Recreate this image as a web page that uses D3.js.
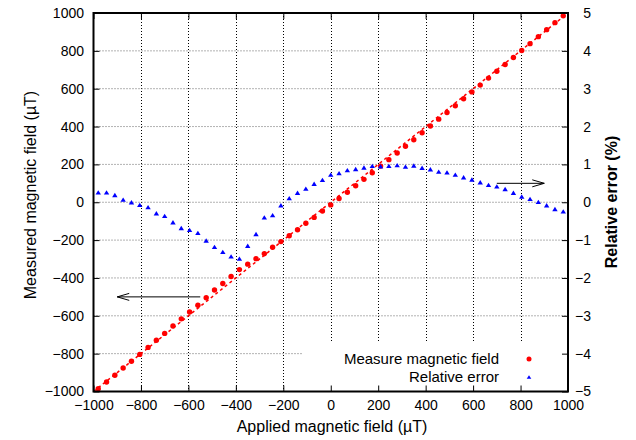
<!DOCTYPE html>
<html>
<head>
<meta charset="utf-8">
<script src="https://cdn.jsdelivr.net/npm/d3@7"></script>
<style>
  html, body { margin: 0; padding: 0; background: #fff; }
  svg { display: block; font-family: "Liberation Sans", Arial, sans-serif; }
</style>
</head>
<body>
<svg id="chart" width="636" height="440"></svg>
<script>
// Applied field steps (µT)
const applied = [
  -980, -945, -910, -875, -840, -805, -770, -735, -700, -665,
  -630, -595, -560, -525, -490, -455, -420, -385, -350, -315,
  -280, -245, -210, -175, -140, -105, -70, -35, 0, 35,
  70, 105, 140, 175, 210, 245, 280, 315, 350, 385,
  420, 455, 490, 525, 560, 595, 630, 665, 700, 735,
  770, 805, 840, 875, 910, 945, 980
];

// Sensor reading at each step (µT)
const measured = [
  -985, -950, -914, -876, -840, -804, -767, -729, -693, -654,
  -616, -580, -544, -505, -464, -429, -392, -356, -327, -298,
  -272, -238, -208, -177, -145, -111, -80, -46, -14, 20,
  53, 87, 121, 156, 191, 225, 260, 296, 330, 367,
  403, 439, 474, 510, 547, 583, 619, 656, 692, 728,
  765, 802, 838, 875, 912, 949, 985
];

// Relative error (% of full scale)
const relError = [
  0.26, 0.26, 0.19, 0.07, 0.00, -0.07, -0.13, -0.29, -0.36, -0.53,
  -0.68, -0.73, -0.81, -1.01, -1.18, -1.31, -1.43, -1.49, -1.15, -0.84,
  -0.40, -0.34, -0.08, 0.11, 0.25, 0.36, 0.49, 0.59, 0.73, 0.77,
  0.85, 0.88, 0.92, 0.96, 0.95, 0.96, 0.98, 0.94, 0.97, 0.91,
  0.87, 0.81, 0.79, 0.73, 0.66, 0.60, 0.53, 0.46, 0.42, 0.35,
  0.25, 0.15, 0.09, 0.01, -0.08, -0.18, -0.24
];

const xTicks = [-1000, -800, -600, -400, -200, 0, 200, 400, 600, 800, 1000];
const yTicks = [-1000, -800, -600, -400, -200, 0, 200, 400, 600, 800, 1000];
const y2Ticks = [-5, -4, -3, -2, -1, 0, 1, 2, 3, 4, 5];

const idealLine = [-1000, 1000];

const legendLabels = ["Measure magnetic field", "Relative error"];

// Arrows pointing each series to its axis (data units)
const arrowLeft = [[-550, -500], [-900, -500]];     // on the µT axis
const arrowRight = [[700, 0.5], [900, 0.5]];        // on the % axis

const xTitle = "Applied magnetic field (\u00b5T)";
const yTitle = "Measured magnetic field (\u00b5T)";
const y2Title = "Relative error (%)";

const L = 93.5, R = 568, T = 13, B = 391.5;

const x = d3.scaleLinear().domain([-1000, 1000]).range([L, R]);
const y = d3.scaleLinear().domain([-1000, 1000]).range([B, T]);
const y2 = d3.scaleLinear().domain([-5, 5]).range([B, T]);

const svg = d3.select("#chart");

// Dotted grid
const grid = svg.append("g").attr("stroke", "#000").attr("stroke-width", 1)
  .attr("stroke-dasharray", "1,2");
grid.selectAll("line.v").data(xTicks.slice(1, -1)).join("line")
  .attr("class", "v")
  .attr("x1", d => Math.round(x(d)) + 0.5).attr("x2", d => Math.round(x(d)) + 0.5)
  .attr("y1", T).attr("y2", B);
grid.selectAll("line.h").data(yTicks.slice(1, -1)).join("line")
  .attr("class", "h")
  .attr("x1", L).attr("x2", R)
  .attr("y1", d => y(d)).attr("y2", d => y(d))
  .attr("stroke", "#666");

// Ideal response y = x
svg.append("line")
  .attr("x1", x(idealLine[0])).attr("y1", y(idealLine[0]))
  .attr("x2", x(idealLine[1])).attr("y2", y(idealLine[1]))
  .attr("stroke", "#ff0000").attr("stroke-width", 1.5)
  .attr("stroke-dasharray", "3,3");

// Measured points
svg.append("g").selectAll("circle").data(applied).join("circle")
  .attr("cx", d => x(d))
  .attr("cy", (d, i) => y(measured[i]))
  .attr("r", 2.7)
  .attr("fill", "#ff0000");

// Relative error triangles
const tri = (cx, cy, w, h) =>
  `M${cx},${cy - h / 2}L${cx + w / 2},${cy + h / 2}L${cx - w / 2},${cy + h / 2}Z`;
svg.append("g").selectAll("path").data(applied).join("path")
  .attr("d", (d, i) => tri(x(d), y2(relError[i]), 5.4, 4.4))
  .attr("fill", "#0000ff");

// Legend (opaque box)
svg.append("rect").attr("x", 302).attr("y", 341).attr("width", 264).attr("height", 49)
  .attr("fill", "#fff");
const leg = svg.append("g").attr("font-size", 15).attr("fill", "#000");
leg.selectAll("text").data(legendLabels).join("text")
  .attr("x", 499).attr("y", (d, i) => 364 + i * 18)
  .attr("text-anchor", "end").text(d => d);
leg.append("circle").attr("cx", 529).attr("cy", 359).attr("r", 2.5).attr("fill", "#ff0000");
leg.append("path").attr("d", tri(529, 377, 4.6, 3.6)).attr("fill", "#0000ff");

// Arrows
function arrow(p0, p1, ys) {
  const x0 = x(p0[0]), yy0 = ys(p0[1]), x1 = x(p1[0]), yy1 = ys(p1[1]);
  const dir = Math.sign(x1 - x0);
  const g = svg.append("g").attr("stroke", "#000").attr("stroke-width", 1).attr("fill", "none");
  g.append("line").attr("x1", x0).attr("y1", yy0).attr("x2", x1).attr("y2", yy1);
  g.append("path").attr("d",
    `M${x1 - dir * 12},${yy1 - 3.5}L${x1},${yy1}L${x1 - dir * 12},${yy1 + 3.5}`);
}
arrow(arrowLeft[0], arrowLeft[1], y);
arrow(arrowRight[0], arrowRight[1], y2);

// Axes with inward ticks
const fmt = d3.format("d");
const axB = svg.append("g").attr("transform", `translate(0,${B})`)
  .call(d3.axisBottom(x).tickValues(xTicks).tickFormat(fmt).tickSizeInner(-6).tickSizeOuter(0).tickPadding(8.5));
const axT = svg.append("g").attr("transform", `translate(0,${T})`)
  .call(d3.axisTop(x).tickValues(xTicks).tickFormat("").tickSizeInner(-6).tickSizeOuter(0));
const axL = svg.append("g").attr("transform", `translate(${L},0)`)
  .call(d3.axisLeft(y).tickValues(yTicks).tickFormat(fmt).tickSizeInner(-6).tickSizeOuter(0).tickPadding(9.5));
const axR = svg.append("g").attr("transform", `translate(${R},0)`)
  .call(d3.axisRight(y2).tickValues(y2Ticks).tickFormat(fmt).tickSizeInner(-6).tickSizeOuter(0));
[axB, axT, axL, axR].forEach(a => {
  a.select(".domain").remove();
  a.attr("font-family", null).attr("font-size", 14);
  a.selectAll(".tick line").attr("stroke", "#000").attr("stroke-width", 1);
  a.selectAll(".tick text").attr("fill", "#000");
});
axR.selectAll(".tick text").attr("text-anchor", "end").attr("x", 23);

// Frame
svg.append("rect").attr("x", L).attr("y", T).attr("width", R - L).attr("height", B - T)
  .attr("fill", "none").attr("stroke", "#000").attr("stroke-width", 2);

// Titles
svg.append("text").attr("x", 332).attr("y", 432).attr("text-anchor", "middle")
  .attr("font-size", 16).text(xTitle);
svg.append("text").attr("transform", "translate(30,195) rotate(-90)")
  .attr("text-anchor", "middle").attr("dy", "0.35em").attr("font-size", 16).text(yTitle);
svg.append("text").attr("transform", "translate(611,202) rotate(-90)")
  .attr("text-anchor", "middle").attr("dy", "0.35em").attr("font-size", 16)
  .attr("font-weight", "bold").text(y2Title);
</script>
</body>
</html>
